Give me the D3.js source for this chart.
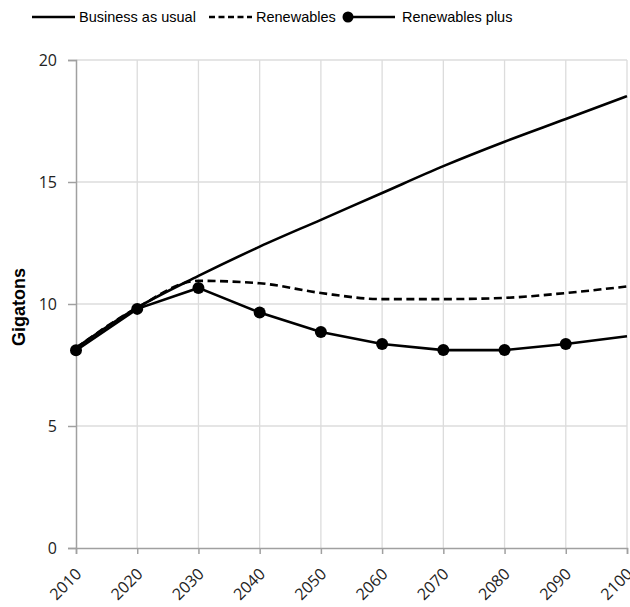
<!DOCTYPE html>
<html>
<head>
<meta charset="utf-8">
<script src="https://cdn.jsdelivr.net/npm/d3@7"></script>
<style>
  body { margin: 0; background: #fff; }
  svg { display: block; }
  .tick text { font-family: "Open Sans", sans-serif; font-size: 16px; fill: #222; }
  .legend text { font-family: "Liberation Sans", Arial, sans-serif; font-size: 14.5px; fill: #000; }
</style>
</head>
<body>
<div id="chart"></div>
<script>
// data
var years = [2010, 2020, 2030, 2040, 2050, 2060, 2070, 2080, 2090, 2100];
var businessAsUsual = [8.2, 9.85, 11.15, 12.35, 13.45, 14.55, 15.65, 16.65, 17.58, 18.52];
var renewables = [8.2, 9.85, 10.95, 10.85, 10.45, 10.2, 10.2, 10.25, 10.45, 10.72];
var renewablesPlus = [8.1, 9.8, 10.66, 9.65, 8.85, 8.36, 8.11, 8.11, 8.36, 8.68];
var yTicks = [0, 5, 10, 15, 20];

var width = 630, height = 607;
var margin = {top: 60, right: 3, bottom: 59, left: 76};

var svg = d3.select('#chart')
    .append('svg')
    .attr('width', width)
    .attr('height', height);

var x = d3.scaleLinear()
    .domain([2010, 2100])
    .range([margin.left, width - margin.right]);

var y = d3.scaleLinear()
    .domain([0, 20])
    .range([height - margin.bottom, margin.top]);

// grid
svg.append('g')
    .selectAll('line.hgrid')
    .data(yTicks.slice(1))
    .enter().append('line')
    .attr('x1', x(2010)).attr('x2', x(2100))
    .attr('y1', function(d) { return y(d); })
    .attr('y2', function(d) { return y(d); })
    .attr('stroke', '#dcdcdc')
    .attr('stroke-width', 1.3);

svg.append('g')
    .selectAll('line.vgrid')
    .data(years.slice(1))
    .enter().append('line')
    .attr('x1', function(d) { return x(d); })
    .attr('x2', function(d) { return x(d); })
    .attr('y1', y(0)).attr('y2', y(20))
    .attr('stroke', '#dcdcdc')
    .attr('stroke-width', 1.3);

// axes
var yAxis = svg.append('g')
    .attr('transform', 'translate(' + x(2010) + ',0)')
    .call(d3.axisLeft(y).tickValues(yTicks).tickSize(8).tickPadding(11));

var xAxis = svg.append('g')
    .attr('transform', 'translate(0,' + y(0) + ')')
    .call(d3.axisBottom(x).tickValues(years).tickFormat(d3.format('d')).tickSize(6));

[xAxis, yAxis].forEach(function(a) {
    a.selectAll('.domain, .tick line').attr('stroke', '#a0a0a0').attr('stroke-width', 1.5);
});

xAxis.selectAll('.tick text')
    .attr('text-anchor', 'end')
    .attr('x', 0)
    .attr('y', 0)
    .attr('dy', 0)
    .attr('transform', 'translate(6,27) rotate(-45)');

svg.append('text')
    .attr('transform', 'translate(25,307) rotate(-90)')
    .attr('text-anchor', 'middle')
    .style('font-family', '"Liberation Sans", Arial, sans-serif')
    .style('font-size', '18px')
    .style('font-weight', 'bold')
    .text('Gigatons');

// lines
var series = [
    {name: 'Business as usual', values: businessAsUsual, dash: null, curve: d3.curveMonotoneX, dots: false},
    {name: 'Renewables', values: renewables, dash: '8,4.5', curve: d3.curveMonotoneX, dots: false},
    {name: 'Renewables plus', values: renewablesPlus, dash: null, curve: d3.curveLinear, dots: true}
];

series.forEach(function(s) {
    var pts = years.map(function(yr, i) { return {year: yr, value: s.values[i]}; });
    var line = d3.line()
        .x(function(d) { return x(d.year); })
        .y(function(d) { return y(d.value); })
        .curve(s.curve);

    svg.append('path')
        .datum(pts)
        .attr('d', line)
        .attr('fill', 'none')
        .attr('stroke', '#000')
        .attr('stroke-width', 2.6)
        .attr('stroke-dasharray', s.dash);

    if (s.dots) {
        // the last point sits on the edge and shows no marker
        svg.selectAll('circle.dot')
            .data(pts.slice(0, -1))
            .enter().append('circle')
            .attr('cx', function(d) { return x(d.year); })
            .attr('cy', function(d) { return y(d.value); })
            .attr('r', 6)
            .attr('fill', '#000');
    }
});

// legend
var legendItems = [
    {name: 'Business as usual', x: 32, dash: null, dot: false},
    {name: 'Renewables', x: 209, dash: '6,3.5', dot: false},
    {name: 'Renewables plus', x: 348, dash: null, dot: true}
];

var legend = svg.append('g').attr('class', 'legend');
legendItems.forEach(function(item) {
    var g = legend.append('g').attr('transform', 'translate(' + item.x + ',17)');
    g.append('line')
        .attr('x1', 0).attr('x2', item.dot ? 47 : 43)
        .attr('stroke', '#000')
        .attr('stroke-width', 2.6)
        .attr('stroke-dasharray', item.dash);
    if (item.dot) {
        g.append('circle').attr('r', 5.5).attr('fill', '#000');
    }
    g.append('text')
        .attr('x', item.dot ? 54 : 47)
        .attr('dy', '0.35em')
        .text(item.name);
});
</script>
</body>
</html>
